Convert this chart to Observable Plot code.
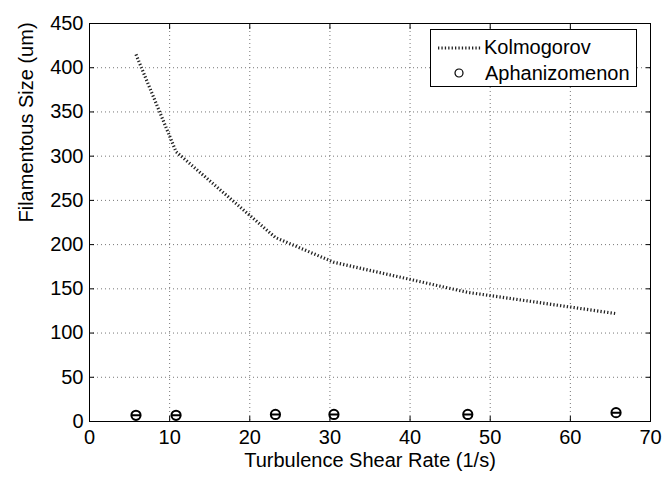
<!DOCTYPE html>
<html>
<head>
<meta charset="utf-8">
<script src="https://cdn.jsdelivr.net/npm/d3@7"></script>
<script src="https://cdn.jsdelivr.net/npm/@observablehq/plot@0.6"></script>
<style>
  html, body { margin: 0; padding: 0; background: #fff; }
  #wrap { position: relative; width: 664px; height: 478px; font-family: "Liberation Sans", Arial, sans-serif; }
  #legend { position: absolute; left: 430px; top: 29px; width: 207px; height: 58px; border: 1px solid #000; background: #fff; box-sizing: border-box; }
  #legend .row { position: absolute; left: 0; font-size: 20px; line-height: 20px; color: #000; white-space: nowrap; }
  #legend svg { position: absolute; }
</style>
</head>
<body>
<div id="wrap"></div>
<script>
const shearRate = [5.8, 10.8, 23.2, 30.5, 47.2, 65.7];
const kolmogorov = [415, 305, 208, 180, 146, 122];
const aphanizomenon = [7, 7, 8, 8, 8, 10];
const xTicks = [0, 10, 20, 30, 40, 50, 60, 70];
const yTicks = [0, 50, 100, 150, 200, 250, 300, 350, 400, 450];
const seriesNames = ["Kolmogorov", "Aphanizomenon"];
const xLabel = "Turbulence Shear Rate (1/s)";
const yLabel = "Filamentous Size (um)";

const lineData = shearRate.map((x, i) => ({x, y: kolmogorov[i]}));
const dotData = shearRate.map((x, i) => ({x, y: aphanizomenon[i]}));

const thetaSymbol = {
  draw(ctx, size) {
    const r = Math.sqrt(size / Math.PI);
    ctx.moveTo(r, 0);
    ctx.arc(0, 0, r, 0, 2 * Math.PI);
    ctx.moveTo(-r, 0);
    ctx.lineTo(r, 0);
  }
};

const fontFamily = "'Liberation Sans', Arial, sans-serif";

const chart = Plot.plot({
  width: 664,
  height: 478,
  marginLeft: 89,
  marginRight: 14,
  marginTop: 23,
  marginBottom: 57,
  style: {fontFamily, fontSize: "20px", color: "#000", background: "#fff"},
  x: {domain: [0, 70], ticks: xTicks},
  y: {domain: [0, 450], ticks: yTicks},
  marks: [
    Plot.gridX(xTicks, {stroke: "#777", strokeOpacity: 1, strokeWidth: 1, strokeDasharray: "1,3"}),
    Plot.gridY(yTicks, {stroke: "#777", strokeOpacity: 1, strokeWidth: 1, strokeDasharray: "1,3"}),
    Plot.frame({stroke: "#000", strokeWidth: 1}),
    Plot.axisX(xTicks, {anchor: "bottom", tickSize: -5, tickPadding: 13, label: null, fontSize: 20}),
    Plot.axisX(xTicks, {anchor: "top", tickSize: -5, tickFormat: () => "", label: null}),
    Plot.axisY(yTicks, {anchor: "left", tickSize: -5, tickPadding: 11, label: null, fontSize: 20}),
    Plot.axisY(yTicks, {anchor: "right", tickSize: -5, tickFormat: () => "", label: null}),
    Plot.line(lineData, {x: "x", y: "y", stroke: "#222", strokeWidth: 3.2, strokeDasharray: "1.3,2.1", strokeLinecap: "butt"}),
    Plot.dot(dotData, {x: "x", y: "y", r: 4.6, symbol: thetaSymbol, stroke: "#000", strokeWidth: 2, fill: "none"}),
    Plot.text([xLabel], {frameAnchor: "bottom", dy: 45, fontSize: 20, fill: "#000"}),
    Plot.text([yLabel], {frameAnchor: "left", dx: -63, rotate: -90, fontSize: 20, fill: "#000"})
  ]
});

const wrap = document.getElementById("wrap");
wrap.appendChild(chart);

const legend = document.createElement("div");
legend.id = "legend";
legend.innerHTML = `
  <svg style="left:6px;top:13px" width="46" height="10"><line x1="1" y1="5" x2="45" y2="5" stroke="#222" stroke-width="3.2" stroke-dasharray="1.3,2.1"/></svg>
  <div class="row" style="left:53px;top:7px">${seriesNames[0]}</div>
  <svg style="left:22px;top:37px" width="12" height="12"><circle cx="6" cy="6" r="4" fill="none" stroke="#000" stroke-width="1.2"/></svg>
  <div class="row" style="left:54px;top:33px">${seriesNames[1]}</div>`;
wrap.appendChild(legend);
</script>
</body>
</html>
